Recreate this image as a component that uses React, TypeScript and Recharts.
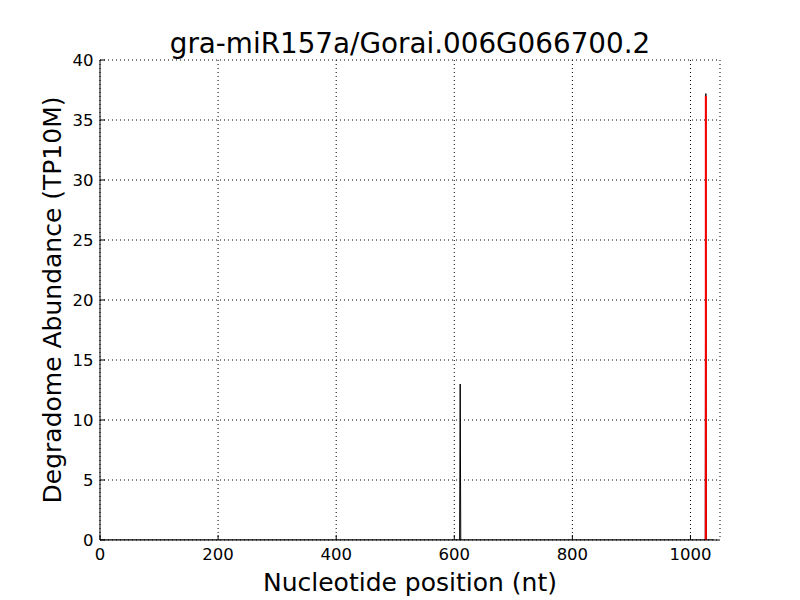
import React from 'react';
import { LineChart, Line, XAxis, YAxis, CartesianGrid } from 'recharts';

const positions = [1, 609, 610, 611, 1025, 1026, 1027, 1040];
const abundance = [0, 0, 13, 0, 0, 37.2, 0, 0];
const sitePositions = [1026, 1026];
const siteValues = [0, 37];
const xTicks = [0, 200, 400, 600, 800, 1000];
const yTicks = [0, 5, 10, 15, 20, 25, 30, 35, 40];

const data = positions.map((x, i) => ({ x, y: abundance[i] }));
const siteData = sitePositions.map((x, i) => ({ x, y: siteValues[i] }));

const FONT = 'DejaVu Sans';
const tickStyle = { fontFamily: FONT, fontSize: 16.5, fill: '#000' };

export default function App() {
  return (
    <div
      style={{
        position: 'relative',
        width: 800,
        height: 600,
        marginTop: -8,
        marginLeft: -8,
        marginBottom: 0,
        background: '#fff',
      }}
    >
      <LineChart
        width={800}
        height={600}
        data={data}
        margin={{ top: 60, right: 80, bottom: 0, left: 0 }}
      >
        <CartesianGrid stroke="#000" strokeDasharray="1 3" strokeWidth={1} xAxisId={0} yAxisId={0} />
        <XAxis
          xAxisId={0}
          type="number"
          dataKey="x"
          domain={[0, 1050]}
          ticks={xTicks}
          allowDataOverflow
          height={60}
          tickSize={-5}
          tickMargin={13}
          tick={tickStyle}
          stroke="#000"
          axisLine={{ stroke: '#000', strokeWidth: 1 }}
          tickLine={{ stroke: '#000' }}
          interval={0}
        />
        <XAxis
          xAxisId="top"
          orientation="top"
          type="number"
          dataKey="x"
          domain={[0, 1050]}
          ticks={xTicks}
          allowDataOverflow
          height={0}
          tickSize={-5}
          tick={false}
          axisLine={{ stroke: '#000', strokeWidth: 1 }}
          tickLine={{ stroke: '#000' }}
          interval={0}
        />
        <YAxis
          yAxisId={0}
          type="number"
          domain={[0, 40]}
          ticks={yTicks}
          allowDataOverflow
          width={100}
          tickSize={-5}
          tickMargin={11.5}
          tick={tickStyle}
          axisLine={{ stroke: '#000', strokeWidth: 1 }}
          tickLine={{ stroke: '#000' }}
          interval={0}
        />
        <YAxis
          yAxisId="right"
          orientation="right"
          type="number"
          domain={[0, 40]}
          ticks={yTicks}
          allowDataOverflow
          width={0}
          tickSize={-5}
          tick={false}
          axisLine={{ stroke: '#000', strokeWidth: 1 }}
          tickLine={{ stroke: '#000' }}
          interval={0}
        />
        <Line
          xAxisId={0}
          yAxisId={0}
          type="linear"
          dataKey="y"
          stroke="#000"
          strokeWidth={1}
          dot={false}
          isAnimationActive={false}
        />
        <Line
          xAxisId={0}
          yAxisId={0}
          data={siteData}
          type="linear"
          dataKey="y"
          stroke="#ff0000"
          strokeWidth={2}
          dot={false}
          isAnimationActive={false}
        />
      </LineChart>
      <svg
        width={800}
        height={600}
        style={{ position: 'absolute', left: 0, top: 0, pointerEvents: 'none' }}
      >
        <text x={410} y={53} textAnchor="middle" fontFamily={FONT} fontSize={27.8} fill="#000">
          gra-miR157a/Gorai.006G066700.2
        </text>
        <text x={410} y={591} textAnchor="middle" fontFamily={FONT} fontSize={25} fill="#000">
          Nucleotide position (nt)
        </text>
        <text
          x={61}
          y={300}
          textAnchor="middle"
          fontFamily={FONT}
          fontSize={25}
          fill="#000"
          transform="rotate(-90 61 300)"
        >
          Degradome Abundance (TP10M)
        </text>
      </svg>
    </div>
  );
}
